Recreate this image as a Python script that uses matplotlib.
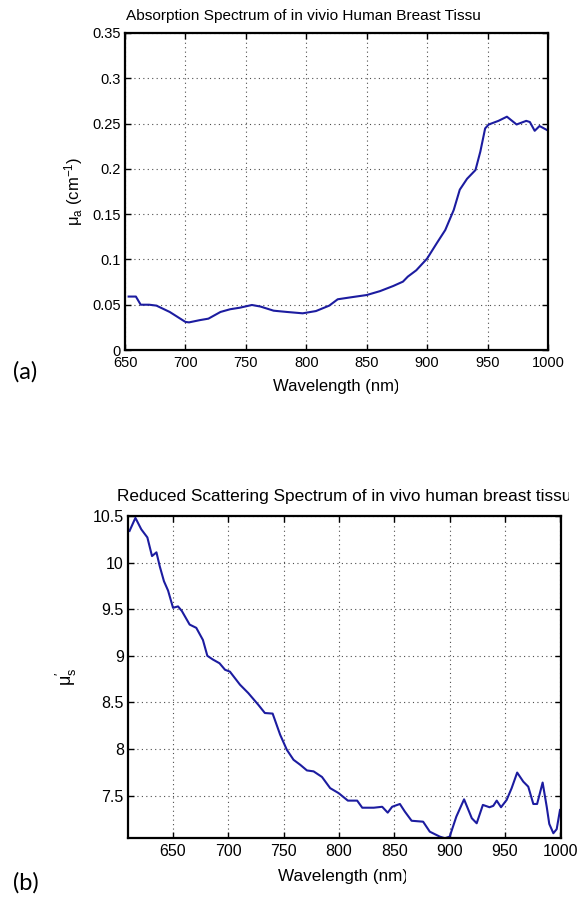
import matplotlib
matplotlib.use("Agg")
import matplotlib.pyplot as plt
from matplotlib.patches import Rectangle
from matplotlib.ticker import FormatStrFormatter

# absorption spectrum (a)
wl_a = [653, 659, 663, 670, 676, 687, 700, 703, 712, 719, 729, 737, 745, 755,
        762, 773, 784, 797, 808, 819, 826, 836, 850, 861, 872, 880, 884, 891,
        900, 908, 915, 922, 927, 933, 940, 944, 948, 951, 959, 966, 974, 977,
        982, 985, 989, 993, 999]
mua = [0.059, 0.059, 0.050, 0.050, 0.049, 0.042, 0.031, 0.0305, 0.033, 0.0346,
       0.042, 0.045, 0.0467, 0.0497, 0.048, 0.0434, 0.042, 0.0405, 0.043, 0.049,
       0.056, 0.058, 0.0607, 0.065, 0.0707, 0.0755, 0.081, 0.088, 0.101, 0.118,
       0.1325, 0.1546, 0.177, 0.189, 0.1987, 0.219, 0.2447, 0.249, 0.253, 0.2576,
       0.249, 0.2505, 0.253, 0.2517, 0.242, 0.2473, 0.243]

# reduced scattering spectrum (b)
wl_s = [610.7, 616, 621.3, 626.8, 631, 635, 638, 641.8, 645.5, 650, 654.5, 658,
        665, 671, 677, 681, 686, 692, 697, 701.4, 710.5, 718, 727, 733, 740,
        746.8, 752.9, 758.9, 765, 771, 777, 784.6, 792, 799.7, 808, 816.4, 821,
        831.4, 839, 844, 848, 855, 859.5, 865.6, 876, 882, 891, 895.7, 900, 906,
        913, 920, 924.4, 930, 936, 939.4, 942.5, 946.4, 951.5, 956, 961, 966.5,
        971, 975.6, 979, 984, 987.7, 990, 993.7, 996.7, 999.7]
mus = [10.34, 10.48, 10.357, 10.27, 10.07, 10.11, 9.96, 9.80, 9.70, 9.515, 9.53,
       9.48, 9.335, 9.30, 9.17, 9.00, 8.96, 8.92, 8.85, 8.83, 8.69, 8.60, 8.475,
       8.386, 8.38, 8.153, 7.99, 7.884, 7.83, 7.77, 7.76, 7.70, 7.58, 7.526,
       7.446, 7.446, 7.37, 7.37, 7.38, 7.317, 7.38, 7.41, 7.328, 7.23, 7.22,
       7.113, 7.06, 7.042, 7.06, 7.274, 7.46, 7.257, 7.203, 7.40, 7.375, 7.39,
       7.446, 7.375, 7.454, 7.58, 7.747, 7.65, 7.596, 7.41, 7.41, 7.64, 7.38,
       7.196, 7.096, 7.14, 7.346]

x_ticks = [650, 700, 750, 800, 850, 900, 950, 1000]
ya_ticks = [0, 0.05, 0.1, 0.15, 0.2, 0.25, 0.3, 0.35]
ys_ticks = [7.5, 8, 8.5, 9, 9.5, 10, 10.5]

plt.rcParams['font.family'] = ['Liberation Sans', 'DejaVu Sans']
plt.rcParams['mathtext.default'] = 'regular'

W, H = 579, 899
fig = plt.figure(figsize=(W / 100, H / 100), dpi=100)

line_color = '#1c1ca0'


def style(ax, fs):
    ax.grid(True, linestyle=(0, (1, 3)), color='0.3', linewidth=0.8)
    ax.tick_params(direction='in', top=True, right=True, length=4, width=1,
                   labelsize=fs, pad=3)
    ax.tick_params(axis='x', pad=4)
    for sp in ax.spines.values():
        sp.set_linewidth(1.6)


def px_text(x, y, s, **kw):
    return fig.text(x / W, 1 - y / H, s, **kw)


def mask(x0, y0, x1, y1):
    # white box over the cut-off end of a label
    fig.add_artist(Rectangle((x0 / W, 1 - y1 / H), (x1 - x0) / W, (y1 - y0) / H,
                             transform=fig.transFigure, facecolor='white',
                             edgecolor='none', zorder=10))


# (a) absorption
ax1 = fig.add_axes([125 / W, 1 - 350 / H, 423 / W, 317 / H])
ax1.plot(wl_a, mua, color=line_color, linewidth=1.5)
ax1.set_xlim(650, 1000)
ax1.set_ylim(0, 0.35)
ax1.set_xticks(x_ticks)
ax1.set_yticks(ya_ticks)
ax1.yaxis.set_major_formatter(FormatStrFormatter('%g'))
style(ax1, 10.5)
ax1.set_ylabel('μ$_{a}$ (cm$^{-1}$)', fontsize=12, labelpad=5)
px_text(126, 16, 'Absorption Spectrum of in vivio Human Breast Tissue',
        ha='left', va='center', fontsize=11.05)
px_text(273, 387, 'Wavelength (nm)', ha='left', va='center', fontsize=12)
mask(480, 3, 579, 30)
mask(398, 376, 425, 400)

# (b) reduced scattering
ax2 = fig.add_axes([128 / W, 1 - 838 / H, 433 / W, 322 / H])
ax2.plot(wl_s, mus, color=line_color, linewidth=1.5)
ax2.set_xlim(609.3, 1000.6)
ax2.set_ylim(7.045, 10.5)
ax2.set_xticks(x_ticks)
ax2.set_yticks(ys_ticks)
ax2.yaxis.set_major_formatter(FormatStrFormatter('%g'))
style(ax2, 11.5)
ax2.set_ylabel("μ$_{s}^{\\prime}$", fontsize=13, labelpad=10)
px_text(117, 496, 'Reduced Scattering Spectrum of in vivo human breast tissue',
        ha='left', va='center', fontsize=12.45)
px_text(278, 877, 'Wavelength (nm)', ha='left', va='center', fontsize=12.3)
mask(569, 483, 579, 510)
mask(406, 865, 430, 892)

# panel letters
px_text(13, 372, '(a)', family=['Lato', 'DejaVu Sans'], fontsize=17,
        ha='left', va='center')
px_text(13, 883, '(b)', family=['Lato', 'DejaVu Sans'], fontsize=17,
        ha='left', va='center')

fig.savefig('out.png', dpi=100)
